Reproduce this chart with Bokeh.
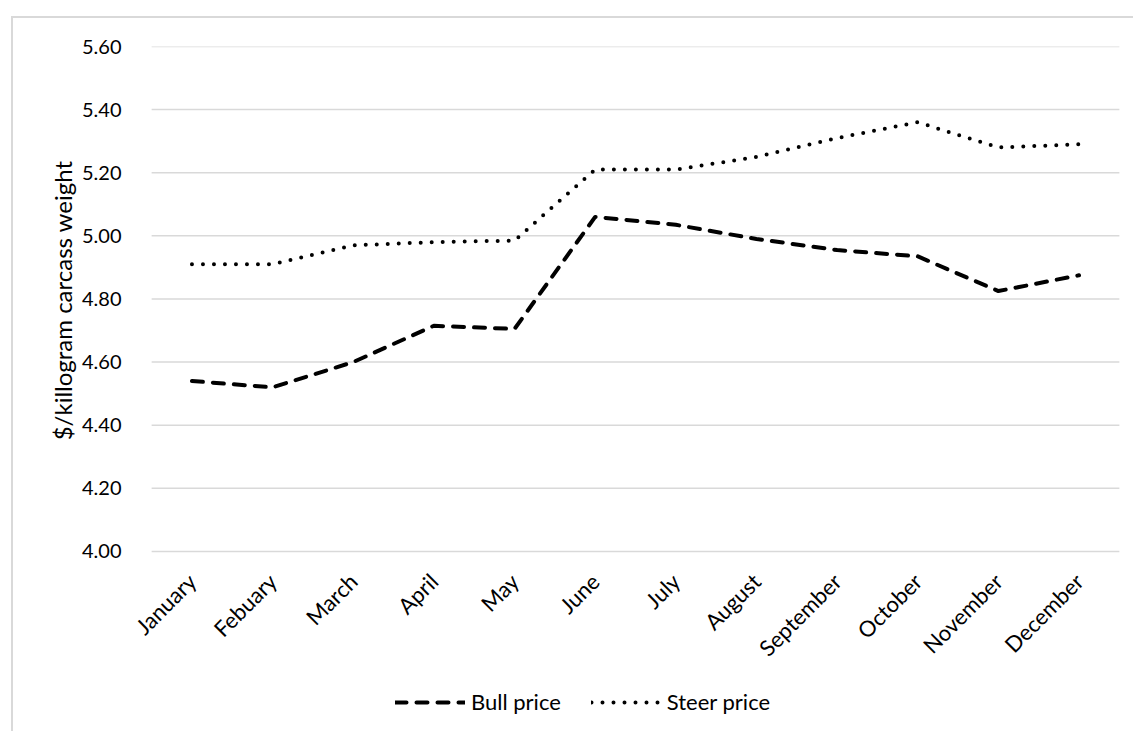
from bokeh.plotting import figure
from bokeh.models import Range1d, FactorRange, Legend, LegendItem, Title
from bokeh.embed import file_html
from bokeh.resources import INLINE
import math

# Monthly prices, $/kg carcass weight
months = ["January", "Febuary", "March", "April", "May", "June",
          "July", "August", "September", "October", "November", "December"]
bull_price = [4.54, 4.52, 4.60, 4.715, 4.705, 5.06, 5.035, 4.99, 4.955, 4.935, 4.825, 4.875]
steer_price = [4.91, 4.91, 4.97, 4.98, 4.985, 5.21, 5.21, 5.25, 5.31, 5.36, 5.28, 5.29]

y_ticks = [4.00, 4.20, 4.40, 4.60, 4.80, 5.00, 5.20, 5.40, 5.60]
y_title = "$/killogram carcass weight"

FONT = "Lato"
GRID = "#d9d9d9"

# The frame runs down to the bottom edge so the legend can sit under the
# month labels; the month axis is pinned at the lowest tick.
Y_START = 3.423

p = figure(
    width=1122, height=715,
    x_range=FactorRange(*months, range_padding=0.2, range_padding_units="absolute"),
    y_range=Range1d(Y_START, y_ticks[-1]),
    output_backend="svg", toolbar_location=None,
    min_border_left=122, min_border_right=0, min_border_top=28, min_border_bottom=0,
    background_fill_color="white", border_fill_color="white",
    outline_line_color=None,
    margin=(16, 0, 0, 11),
    styles={"border-left": f"2px solid {GRID}", "border-top": f"2px solid {GRID}"},
)

# Horizontal gridlines spanning the twelve month bands
p.segment(x0=[(months[0], -0.5)] * len(y_ticks), x1=[(months[-1], 0.5)] * len(y_ticks),
          y0=y_ticks, y1=y_ticks, line_color=GRID, line_width=1.5)

# Axes
p.yaxis.ticker = y_ticks
p.yaxis.major_label_overrides = {t: f"{t:.2f}" for t in y_ticks}
for ax in (p.xaxis, p.yaxis):
    ax.axis_line_color = None
    ax.major_tick_line_color = None
    ax.minor_tick_line_color = None
    ax.major_label_text_font = FONT
    ax.major_label_text_color = "black"
p.yaxis.major_label_text_font_size = "20px"
p.yaxis.major_label_standoff = 8
p.xaxis.fixed_location = y_ticks[0]
p.xaxis.major_label_text_font_size = "22px"
p.xaxis.major_label_standoff = 20
p.xaxis.major_label_orientation = math.pi / 4

# Vertical axis title, centred on the 4.00-5.60 span
p.add_layout(Title(text=y_title, align="right", offset=114, standoff=4,
                   text_font=FONT, text_font_size="24px", text_font_style="normal",
                   text_color="black"), "left")

p.xgrid.grid_line_color = None
p.ygrid.grid_line_color = None

bull = p.line(months, bull_price, line_color="black", line_width=4,
              line_dash="11 10", line_cap="round", line_join="round")
steer = p.line(months, steer_price, line_color="black", line_width=4,
               line_dash="0 11", line_cap="round", line_join="round")

legend = Legend(
    items=[LegendItem(label="Bull price", renderers=[bull]),
           LegendItem(label="Steer price", renderers=[steer])],
    orientation="horizontal",
    location=(260, 18),
    glyph_width=70, glyph_height=20,
    label_standoff=6, spacing=30, padding=0, margin=0,
    label_text_font=FONT, label_text_font_size="22px", label_text_color="black",
    background_fill_alpha=0, border_line_color=None,
)
p.add_layout(legend, "center")

open("out.html", "w").write(file_html(p, INLINE))
